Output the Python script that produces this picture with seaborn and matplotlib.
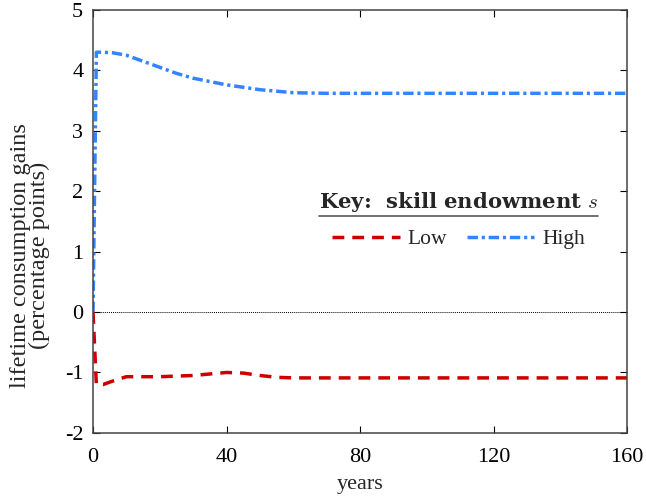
import numpy as np
import pandas as pd
import matplotlib
matplotlib.use("Agg")
import matplotlib.pyplot as plt
import seaborn as sns

# -------------------------------
# Data
# -------------------------------
years_low = [0, 1, 3, 6, 10, 15, 20, 30, 40, 45, 50, 55, 60, 80, 120, 160]
gain_low = [0.0, -1.2, -1.2, -1.14, -1.07, -1.07, -1.07, -1.05, -1.0, -1.01, -1.05, -1.08, -1.09, -1.09, -1.09, -1.09]

years_high = [0, 1, 3, 6, 10, 15, 20, 25, 30, 40, 50, 60, 70, 80, 120, 160]
gain_high = [0.0, 4.3, 4.3, 4.29, 4.25, 4.15, 4.05, 3.95, 3.87, 3.76, 3.68, 3.63, 3.62, 3.62, 3.62, 3.62]

df = pd.concat([
    pd.DataFrame({"years": years_low, "gain": gain_low, "skill": "Low"}),
    pd.DataFrame({"years": years_high, "gain": gain_high, "skill": "High"}),
])

# -------------------------------
# Plot
# -------------------------------
sns.set_theme(style="ticks")
plt.rcParams["font.family"] = ["Liberation Serif", "DejaVu Serif"]
plt.rcParams["mathtext.fontset"] = "cm"
plt.rcParams["axes.unicode_minus"] = False

fig = plt.figure(figsize=(6.46, 4.97), dpi=100)
ax = fig.add_axes([0.144, 0.129, 0.827, 0.851])

ax.axhline(0, color="black", lw=0.7, ls=(0, (1, 1)))

sns.lineplot(
    data=df, x="years", y="gain", hue="skill",
    palette={"Low": "#cc0000", "High": "#3385ff"},
    style="skill",
    dashes={"Low": (3.4, 2.3), "High": (3.0, 1.1, 0.9, 1.1)},
    linewidth=2.5, ax=ax, legend=True,
)

ax.set_xlim(0, 160)
ax.set_ylim(-2, 5)
ax.set_xticks([0, 40, 80, 120, 160])
ax.set_yticks(range(-2, 6))
ax.tick_params(direction="in", top=True, right=True, labelsize=16, length=5,
               width=0.8, colors="black")
ax.tick_params(axis="y", pad=7)
ax.tick_params(axis="x", pad=11)
for s in ax.spines.values():
    s.set_linewidth(1.1)
    s.set_color("#444444")

ax.set_xlabel("years", fontsize=16, labelpad=6)
ax.set_ylabel("lifetime consumption gains\n(percentage points)", fontsize=17.5,
              linespacing=0.86)
ax.yaxis.set_label_coords(-0.08, 0.42)

handles, labels = ax.get_legend_handles_labels()
leg = ax.legend(
    handles, labels, ncol=2, frameon=False,
    title=r"Key:  skill endowment $s$",
    loc="upper center", bbox_to_anchor=(0.684, 0.595),
    fontsize=15.5, handlelength=3.15, handletextpad=0.37, columnspacing=0.9,
    borderaxespad=0.0,
)
title = leg.get_title()
title.set_fontsize(15.2)
title.set_family("DejaVu Serif")
title.set_fontweight("bold")
leg._legend_box.sep = 11

# underline under the legend title
fig.canvas.draw()
tb = title.get_window_extent()
inv = fig.transFigure.inverted()
(x0, y0), (x1, y1) = inv.transform([(tb.x0, tb.y0), (tb.x1, tb.y1)])
fig.add_artist(plt.Line2D([x0, x1], [y0 - 0.004, y0 - 0.004],
                          transform=fig.transFigure, color="#666666", lw=1.3))

fig.savefig("out.png", dpi=100)
